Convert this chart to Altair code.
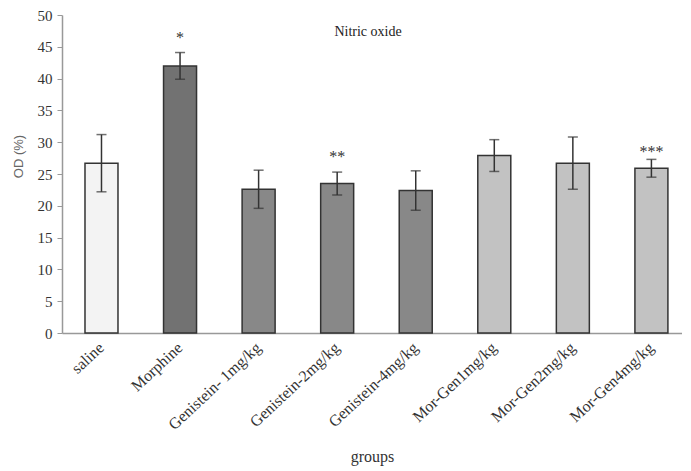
import altair as alt
import pandas as pd

groups = ["saline", "Morphine", "Genistein- 1mg/kg", "Genistein-2mg/kg",
          "Genistein-4mg/kg", "Mor-Gen1mg/kg", "Mor-Gen2mg/kg", "Mor-Gen4mg/kg"]
means = [26.7, 42.0, 22.6, 23.5, 22.4, 27.9, 26.7, 25.9]
sds = [4.5, 2.1, 3.0, 1.8, 3.1, 2.5, 4.1, 1.4]
stars = ["", "*", "", "**", "", "", "", "***"]
star_y = [0, 47.0, 0, 28.3, 0, 0, 0, 29.1]
y_ticks = [0, 5, 10, 15, 20, 25, 30, 35, 40, 45, 50]
fills = ["#f3f3f3", "#727272", "#888888", "#888888", "#888888", "#c2c2c2", "#c2c2c2", "#c2c2c2"]

df = pd.DataFrame({
    "group": groups,
    "mean": means,
    "lower": [m - s for m, s in zip(means, sds)],
    "upper": [m + s for m, s in zip(means, sds)],
    "star": stars,
    "star_y": star_y,
})

serif = "Liberation Serif"

x_axis = alt.Axis(title="groups", labelAngle=-43, labelAlign="right",
                  labelBaseline="middle", labelFont=serif, labelFontSize=16,
                  labelColor="#333", ticks=False, labelPadding=12,
                  domainColor="#999", domainWidth=1.5,
                  titleFont=serif, titleFontSize=16, titleFontWeight="normal",
                  titleColor="#333", titleY=123, titleBaseline="middle")
x_scale = alt.Scale(paddingInner=0.58, paddingOuter=0.236, align=0.62)

y_axis = alt.Axis(title="OD (%)", values=y_ticks, grid=False, labelOverlap=False,
                  labelFont=serif, labelFontSize=15, labelColor="#333",
                  tickColor="#999", tickSize=5, domainColor="#999", domainWidth=1.5,
                  labelPadding=5,
                  titleFont="Liberation Sans", titleFontSize=13,
                  titleFontWeight="normal", titleColor="#666",
                  titleX=-44, titleY=141, titleAngle=-90, titleAlign="center",
                  titleBaseline="middle")
y_scale = alt.Scale(domain=[0, 50])


def X():
    return alt.X("group:N", sort=groups, scale=x_scale, axis=x_axis)


def Y(field):
    return alt.Y(field, scale=y_scale, axis=y_axis)


base = alt.Chart(df)

bars = base.mark_bar(stroke="#333", strokeWidth=1.5).encode(
    x=X(), y=Y("mean:Q"),
    fill=alt.Fill("group:N", scale=alt.Scale(domain=groups, range=fills), legend=None),
)

err = base.mark_rule(color="#333", strokeWidth=1.5).encode(
    x=X(), y=Y("lower:Q"), y2="upper:Q")
cap_hi = base.mark_tick(color="#333", thickness=1.5, size=10).encode(
    x=X(), y=Y("upper:Q"))
cap_lo = base.mark_tick(color="#333", thickness=1.5, size=10).encode(
    x=X(), y=Y("lower:Q"))
txt = base.mark_text(font=serif, fontSize=16, color="#333", baseline="middle", dy=4).encode(
    x=X(), y=Y("star_y:Q"), text="star:N")

chart = alt.layer(bars, err, cap_hi, cap_lo, txt).properties(
    width=620, height=318,
    title=alt.TitleParams("Nitric oxide", font=serif, fontSize=14, fontWeight="normal",
                          color="#222", anchor="middle", offset=0, dx=-4, dy=31),
    autosize="none",
    padding={"left": 54, "top": 7, "right": 0, "bottom": 138},
).configure_view(stroke=None)

chart.save("out.html", embed_options={"renderer": "svg", "actions": False})
